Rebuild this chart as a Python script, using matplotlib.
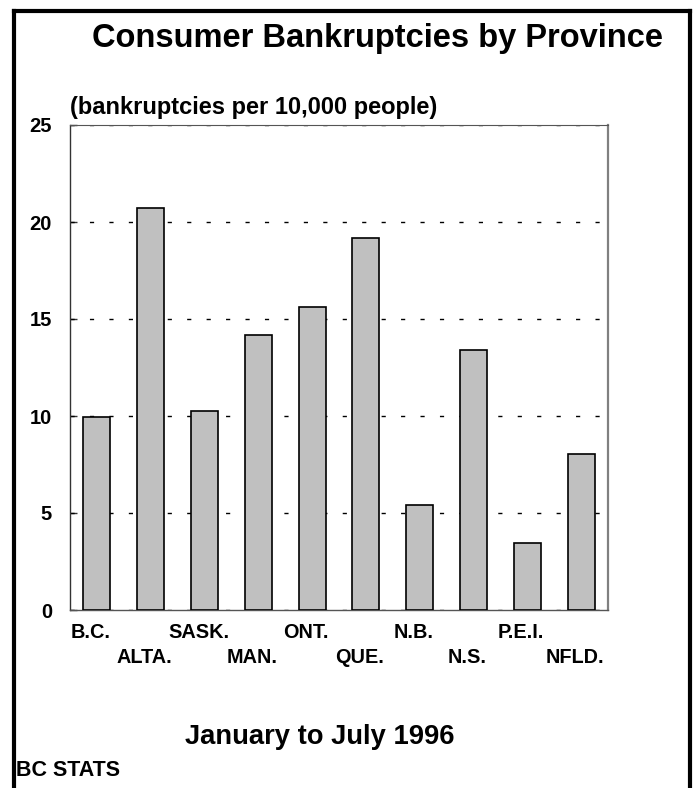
import numpy as np
import matplotlib.pyplot as plt
from matplotlib.lines import Line2D
from matplotlib.transforms import ScaledTranslation

plt.rcParams['font.family'] = ['Liberation Sans', 'DejaVu Sans']
plt.rcParams['font.weight'] = 'bold'

# data (bankruptcies per 10,000 people, Jan-Jul 1996)
provinces = ["B.C.", "ALTA.", "SASK.", "MAN.", "ONT.", "QUE.", "N.B.", "N.S.", "P.E.I.", "NFLD."]
rates = [9.95, 20.7, 10.25, 14.2, 15.6, 19.2, 5.4, 13.4, 3.45, 8.05]
y_ticks = [0, 5, 10, 15, 20, 25]

fig = plt.figure(figsize=(6.96, 7.88), dpi=100)
ax = fig.add_axes([70 / 696, 1 - 610 / 788, 538 / 696, 485 / 788])

x = np.arange(len(provinces))
ax.bar(x, rates, width=0.5, color="#c0c0c0", edgecolor="black", linewidth=1.2, zorder=3)

ax.set_xlim(-0.5, len(provinces) - 0.5)
ax.set_ylim(0, 25)
ax.set_yticks(y_ticks)
ax.set_yticklabels([str(t) for t in y_ticks], fontsize=14.5, fontweight="bold")
ax.tick_params(axis="y", direction="in", length=5, width=1, color="#333333", pad=13)

ax.set_xticks(x)
ax.set_xticklabels(provinces, fontsize=14.3, fontweight="bold")
ax.tick_params(axis="x", length=0)
# staggered province labels, nudged a little left like the original
shift = ScaledTranslation(-6 / 100, 0, fig.dpi_scale_trans)
for i, tick in enumerate(ax.xaxis.get_major_ticks()):
    tick.set_pad(9.5 if i % 2 == 0 else 27.5)
for lbl in ax.get_xticklabels():
    lbl.set_transform(lbl.get_transform() + shift)

# dotted horizontal guides
for t in y_ticks:
    ax.axhline(t, color="black", linewidth=1, dashes=(3, 11), zorder=2)

ax.spines["left"].set_color("#333333")
ax.spines["left"].set_linewidth(1)
ax.spines["bottom"].set_color("#555555")
ax.spines["bottom"].set_linewidth(1)
ax.spines["top"].set_color("#555555")
ax.spines["top"].set_linewidth(0.8)
ax.spines["right"].set_color("#808080")
ax.spines["right"].set_linewidth(1.6)

# titles and notes
fig.text(377 / 696, 1 - 38 / 788, "Consumer Bankruptcies by Province",
         ha="center", va="center", fontsize=23.5, fontweight="bold")
fig.text(70 / 696, 1 - 114 / 788, "(bankruptcies per 10,000 people)",
         ha="left", va="baseline", fontsize=17, fontweight="bold")
fig.text(320 / 696, 1 - 737 / 788, "January to July 1996",
         ha="center", va="center", fontsize=19.7, fontweight="bold")
fig.text(16 / 696, 1 - 770 / 788, "BC STATS",
         ha="left", va="center", fontsize=15.5, fontweight="bold")

# frame around the page (left, top, right)
frame_kw = dict(color="black", linewidth=3, transform=fig.transFigure)
fig.add_artist(Line2D([14 / 696, 14 / 696], [0, 1 - 11 / 788], **frame_kw))
fig.add_artist(Line2D([14 / 696, 690 / 696], [1 - 11 / 788, 1 - 11 / 788], **frame_kw))
fig.add_artist(Line2D([690 / 696, 690 / 696], [0, 1 - 11 / 788], **frame_kw))

fig.savefig("out.png", dpi=100)
